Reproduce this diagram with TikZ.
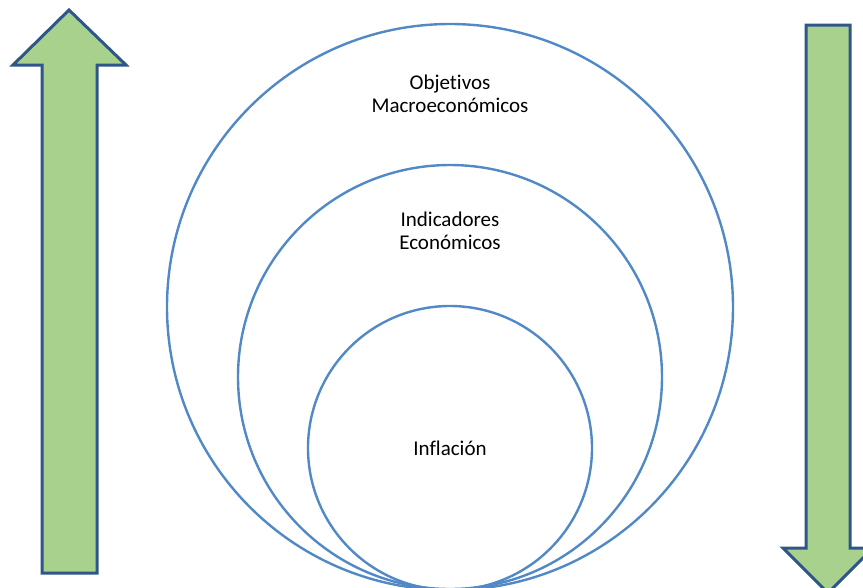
\documentclass[tikz,border=0pt]{standalone}
\usepackage{fontspec}
\setmainfont[RawFeature={-liga;-clig;-dlig}]{Carlito}
\definecolor{ringblue}{HTML}{5089C6}
\definecolor{arrowfill}{HTML}{A9D18E}
\definecolor{arrowline}{HTML}{2F5689}
\tikzset{
  ring/.style={draw=ringblue, line width=2.4pt},
  bigarrow/.style={fill=arrowfill, draw=arrowline, line width=3pt, line join=miter},
  label/.style={align=center, font=\fontsize{21}{23}\selectfont, text=black, inner sep=0pt}
}
\begin{document}
\begin{tikzpicture}[x=1pt, y=-1pt]
\useasboundingbox (0,0) rectangle (863,587);
\clip (0,0) rectangle (863,587);
% left up arrow
\draw[bigarrow] (69,10) -- (126,65) -- (97,65) -- (97,573) -- (42,573) -- (42,65) -- (13,65) -- cycle;
% right down arrow
\draw[bigarrow] (806,25) -- (850,25) -- (850,548) -- (873,548) -- (828,593) -- (783,548) -- (806,548) -- cycle;
% circles
\draw[ring] (450,307) circle[radius=283];
\draw[ring] (450,377) circle[radius=212];
\draw[ring] (450,448) circle[radius=142];
% labels
\node[label] (obj) at (450,94) {Objetivos\\Macroeconómicos};
\node[label] (ind) at (450,231) {Indicadores\\Económicos};
\node[label] (inf) at (450,448) {Inflación};
\end{tikzpicture}
\end{document}
